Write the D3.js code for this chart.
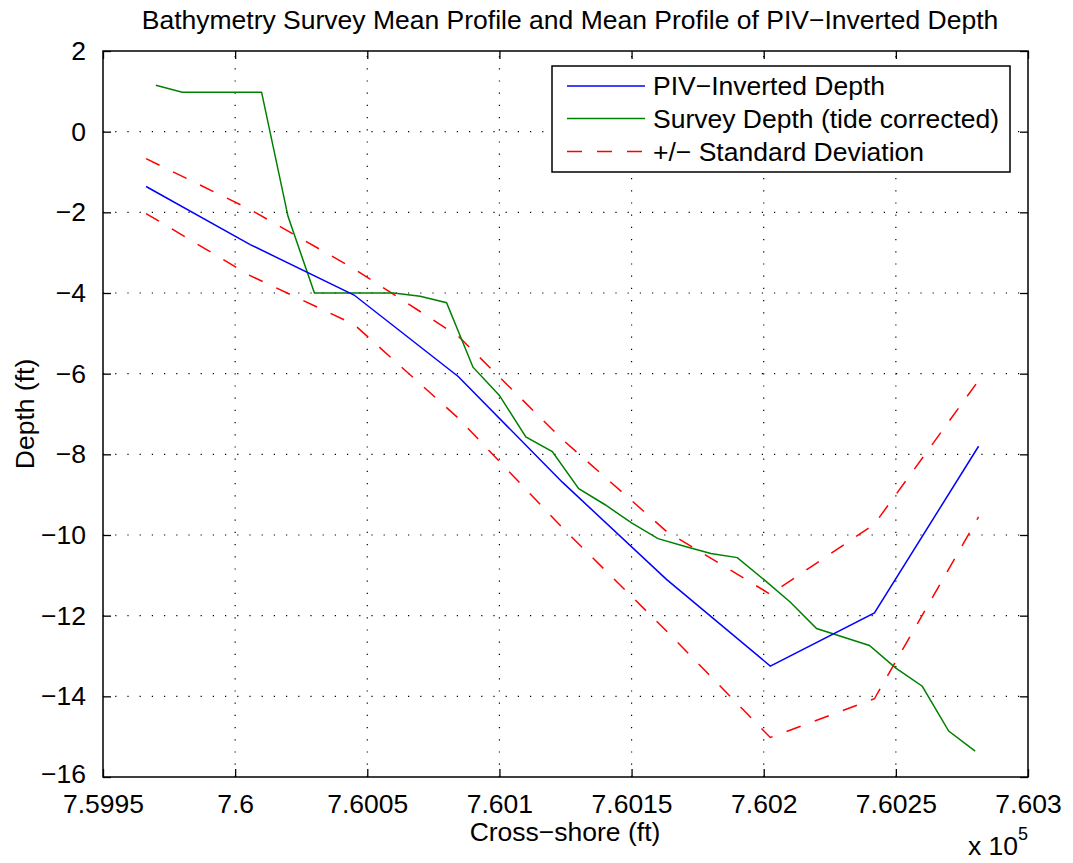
<!DOCTYPE html>
<html><head><meta charset="utf-8">
<script src="https://cdn.jsdelivr.net/npm/d3@7"></script>
<style>body{margin:0;background:#fff}svg{display:block}text{font-family:"Liberation Sans",Arial,sans-serif;fill:#000}</style>
</head><body>
<svg id="chart" width="1073" height="863"></svg>
<script>
const pivX = [759966.3, 760005.7, 760045.0, 760084.4, 760123.8, 760163.2, 760202.5, 760241.9, 760281.3];
const pivDepth = [-1.36, -2.80, -4.05, -6.07, -8.69, -11.10, -13.25, -11.93, -7.80];
const stdUpper = [-0.67, -1.93, -3.40, -5.07, -7.63, -9.91, -11.47, -9.73, -6.17];
const stdLower = [-2.03, -3.57, -4.78, -7.10, -9.82, -12.38, -15.02, -14.06, -9.55];
const surveyX = [759970, 759980, 760010, 760020, 760030, 760060, 760070, 760080, 760090, 760100,
  760110, 760120, 760130, 760140, 760150, 760160, 760170, 760180, 760190, 760200,
  760210, 760220, 760230, 760240, 760250, 760260, 760270, 760280];
const surveyDepth = [1.15, 0.98, 0.98, -2.1, -4.0, -4.0, -4.08, -4.24, -5.84, -6.54,
  -7.57, -7.93, -8.85, -9.25, -9.70, -10.09, -10.28, -10.46, -10.56, -11.1,
  -11.66, -12.32, -12.53, -12.74, -13.3, -13.75, -14.86, -15.36];
const xTicks = [759950, 760000, 760050, 760100, 760150, 760200, 760250, 760300];
const xTickLabels = ["7.5995", "7.6", "7.6005", "7.601", "7.6015", "7.602", "7.6025", "7.603"];
const yTicks = [2, 0, -2, -4, -6, -8, -10, -12, -14, -16];
const legendLabels = ["PIV\u2212Inverted Depth", "Survey Depth (tide corrected)", "+/\u2212 Standard Deviation"];

const svg = d3.select("#chart");
const L = 103, R = 1028, T = 51, B = 777;
const x = d3.scaleLinear().domain([759950, 760300]).range([L, R]);
const y = d3.scaleLinear().domain([-16, 2]).range([B, T]);
const FS = 26.5;
const fmtY = d => d < 0 ? "\u2212" + Math.abs(d) : String(d);

// grid
const grid = svg.append("g").attr("stroke", "#000").attr("stroke-width", 1.2).attr("stroke-dasharray", "1.2,11");
xTicks.slice(1, -1).forEach(t => grid.append("line").attr("x1", x(t)).attr("x2", x(t)).attr("y1", B).attr("y2", T));
yTicks.slice(1, -1).forEach(t => grid.append("line").attr("x1", L).attr("x2", R).attr("y1", y(t)).attr("y2", y(t)));

// axes via d3 (inward ticks)
const tk = 8;
const ax = svg.append("g").attr("transform", `translate(0,${B})`)
  .call(d3.axisBottom(x).tickValues(xTicks).tickFormat((d, i) => xTickLabels[i]).tickSizeInner(-tk).tickSizeOuter(0).tickPadding(14));
const axT = svg.append("g").attr("transform", `translate(0,${T})`)
  .call(d3.axisTop(x).tickValues(xTicks).tickFormat("").tickSizeInner(-tk).tickSizeOuter(0));
const ay = svg.append("g").attr("transform", `translate(${L},0)`)
  .call(d3.axisLeft(y).tickValues(yTicks).tickFormat(fmtY).tickSizeInner(-tk).tickSizeOuter(0).tickPadding(17));
const ayR = svg.append("g").attr("transform", `translate(${R},0)`)
  .call(d3.axisRight(y).tickValues(yTicks).tickFormat("").tickSizeInner(-tk).tickSizeOuter(0));
[ax, axT, ay, ayR].forEach(g => {
  g.select(".domain").remove();
  g.selectAll(".tick line").attr("stroke", "#000").attr("stroke-width", 1.3);
  g.selectAll("text").attr("font-size", FS).attr("font-family", "Liberation Sans, Arial, sans-serif").attr("fill", "#000");
});
ax.selectAll("text").attr("dy", "0.71em").attr("y", 17);
ay.selectAll(".tick").filter(d => d === -16).select("text").attr("y", -3);

svg.append("rect").attr("x", L).attr("y", T).attr("width", R - L).attr("height", B - T)
  .attr("fill", "none").attr("stroke", "#000").attr("stroke-width", 1.5);

// lines
const line = d3.line().x(d => x(d[0])).y(d => y(d[1]));
const zip = (a, b) => a.map((v, i) => [v, b[i]]);
const plot = svg.append("g").attr("fill", "none").attr("stroke-width", 1.5);
plot.append("path").attr("d", line(zip(pivX, stdUpper))).attr("stroke", "#ff0000").attr("stroke-dasharray", "15,15");
plot.append("path").attr("d", line(zip(pivX, stdLower))).attr("stroke", "#ff0000").attr("stroke-dasharray", "15,15");
plot.append("path").attr("d", line(zip(surveyX, surveyDepth))).attr("stroke", "#008000");
plot.append("path").attr("d", line(zip(pivX, pivDepth))).attr("stroke", "#0000ff");

// legend
const lg = svg.append("g");
lg.append("rect").attr("x", 552).attr("y", 66).attr("width", 458).attr("height", 106)
  .attr("fill", "#fff").attr("stroke", "#000").attr("stroke-width", 1.5);
const lcol = ["#0000ff", "#008000", "#ff0000"];
const ldash = [null, null, "15,15"];
const lrow = [86, 118.5, 151.5];
legendLabels.forEach((t, i) => {
  lg.append("line").attr("x1", 567).attr("x2", 645).attr("y1", lrow[i]).attr("y2", lrow[i])
    .attr("stroke", lcol[i]).attr("stroke-width", 1.5).attr("stroke-dasharray", ldash[i]);
  lg.append("text").attr("x", 653).attr("y", lrow[i]).attr("dy", "0.35em").attr("font-size", FS).text(t);
});

// labels
svg.append("text").attr("x", 570).attr("y", 29).attr("text-anchor", "middle").attr("font-size", FS)
  .text("Bathymetry Survey Mean Profile and Mean Profile of PIV\u2212Inverted Depth");
svg.append("text").attr("x", 565).attr("y", 841).attr("text-anchor", "middle").attr("font-size", FS)
  .text("Cross\u2212shore (ft)");
svg.append("text").attr("transform", `translate(34,${(T + B) / 2}) rotate(-90)`).attr("text-anchor", "middle").attr("font-size", FS)
  .text("Depth (ft)");
const ex = svg.append("text").attr("x", 968).attr("y", 855).attr("font-size", FS);
ex.append("tspan").text("x 10");
ex.append("tspan").attr("font-size", 18).attr("dy", -15).text("5");
</script>
</body></html>
